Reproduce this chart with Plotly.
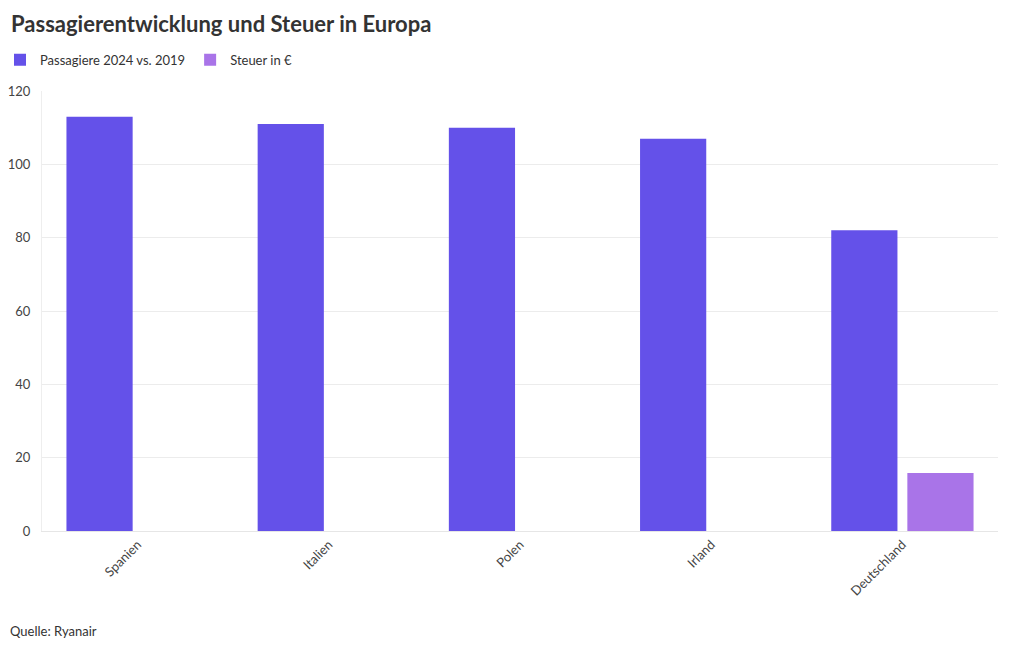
import plotly.graph_objects as go

categories = ["Spanien", "Italien", "Polen", "Irland", "Deutschland"]
passagiere = [113, 111, 110, 107, 82]
steuer = [None, None, None, None, 15.8]
y_ticks = [0, 20, 40, 60, 80, 100, 120]

FONT = "Source Sans Pro, Lato, Noto Sans, sans-serif"

fig = go.Figure()
fig.add_trace(go.Bar(x=categories, y=passagiere, name="Passagiere 2024 vs. 2019",
                     marker=dict(color="#6451E9", line=dict(width=0))))
fig.add_trace(go.Bar(x=categories, y=steuer, name="Steuer in €",
                     marker=dict(color="#A974E8", line=dict(width=0))))

fig.update_layout(
    width=1020, height=650,
    paper_bgcolor="white", plot_bgcolor="white",
    font=dict(family=FONT, size=13, color="#333333"),
    title=dict(text="<b>Passagierentwicklung und Steuer in Europa</b>",
               x=0.0108, xanchor="left", y=0.963, yanchor="middle",
               font=dict(size=22, color="#333333", family=FONT)),
    legend=dict(orientation="h", xref="container", yref="container",
                x=-0.008, xanchor="left", y=0.908, yanchor="middle",
                font=dict(size=13, color="#333333"), itemwidth=30,
                traceorder="normal", itemclick=False),
    barmode="group", bargap=0.204, bargroupgap=0.13,
    margin=dict(l=42, r=22, t=91, b=119, autoexpand=False),
    xaxis=dict(type="category", tickangle=-45, showgrid=False, showline=True,
               linecolor="#e6e6e6", linewidth=1, ticks="", tickfont=dict(size=13, color="#444444")),
    yaxis=dict(range=[0, 120], tickvals=y_ticks, showgrid=True, gridcolor="#ececec",
               zeroline=False, showline=True, linecolor="#eeeeee", ticks="",
               tickfont=dict(size=13, color="#444444"), ticklabelstandoff=8),
    annotations=[dict(text="Quelle: Ryanair", xref="paper", yref="paper",
                      x=-0.0351, y=-0.227, xanchor="left", yanchor="middle", showarrow=False,
                      font=dict(size=13, color="#333333"))],
)

fig.write_html("out.html")
